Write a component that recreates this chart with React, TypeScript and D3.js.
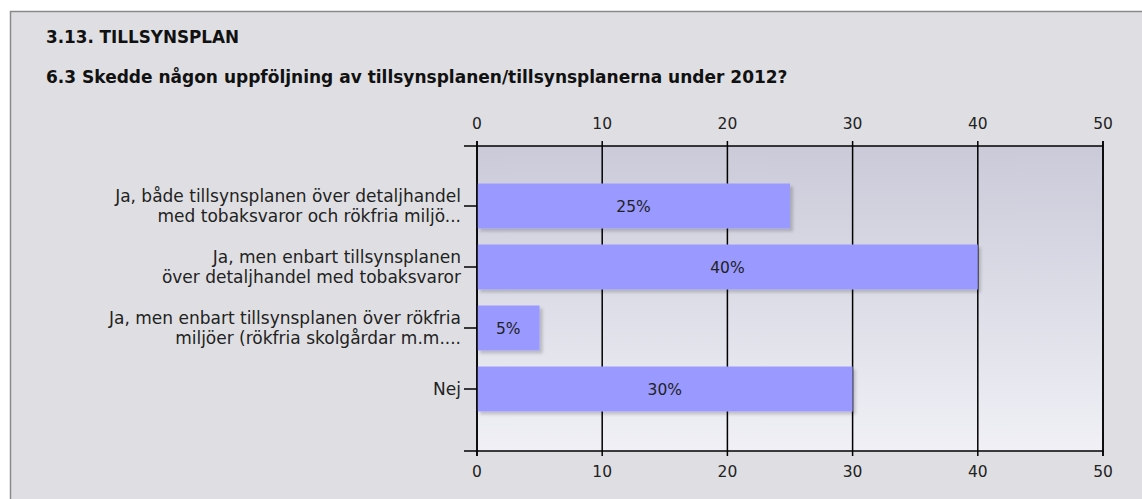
import { useEffect, useRef } from 'react'
import * as d3 from 'd3'

const sectionTitle = '3.13. TILLSYNSPLAN'
const question = '6.3 Skedde någon uppföljning av tillsynsplanen/tillsynsplanerna under 2012?'

const categories = [
  ['Ja, både tillsynsplanen över detaljhandel', 'med tobaksvaror och rökfria miljö...'],
  ['Ja, men enbart tillsynsplanen', 'över detaljhandel med tobaksvaror'],
  ['Ja, men enbart tillsynsplanen över rökfria', 'miljöer (rökfria skolgårdar m.m....'],
  ['Nej'],
]
const values = [25, 40, 5, 30]
const xTicks = [0, 10, 20, 30, 40, 50]

export default function App() {
  const svgRef = useRef<SVGSVGElement | null>(null)

  useEffect(() => {
    if (!svgRef.current) return

    const width = 1142
    const height = 499
    const left = 477
    const right = 1103
    const top = 146
    const bottom = 451
    const font = '"DejaVu Sans", sans-serif'

    const svg = d3.select(svgRef.current)
    svg.selectAll('*').remove()
    svg.attr('width', width).attr('height', height)

    const defs = svg.append('defs')
    const grad = defs
      .append('linearGradient')
      .attr('id', 'plotbg')
      .attr('x1', 0)
      .attr('y1', 0)
      .attr('x2', 0)
      .attr('y2', 1)
    grad.append('stop').attr('offset', '0%').attr('stop-color', '#cacad9')
    grad.append('stop').attr('offset', '100%').attr('stop-color', '#f0f0f6')

    const shadow = defs
      .append('filter')
      .attr('id', 'barshadow')
      .attr('x', '-10%')
      .attr('y', '-20%')
      .attr('width', '130%')
      .attr('height', '150%')
    shadow
      .append('feDropShadow')
      .attr('dx', 3)
      .attr('dy', 3)
      .attr('stdDeviation', 1.5)
      .attr('flood-color', '#000')
      .attr('flood-opacity', 0.18)

    // panel
    svg.append('rect').attr('width', width).attr('height', height).attr('fill', '#fff')
    svg
      .append('rect')
      .attr('x', 10.5)
      .attr('y', 11.5)
      .attr('width', width + 10)
      .attr('height', height + 10)
      .attr('fill', '#dfdfe3')
      .attr('stroke', '#8a8a8a')
      .attr('stroke-width', 1.5)

    svg
      .append('text')
      .attr('x', 46)
      .attr('y', 43)
      .style('font-family', font)
      .style('font-size', '16.8px')
      .style('font-weight', 'bold')
      .attr('fill', '#111')
      .text(sectionTitle)

    svg
      .append('text')
      .attr('x', 46)
      .attr('y', 83)
      .style('font-family', font)
      .style('font-size', '17px')
      .style('font-weight', 'bold')
      .attr('fill', '#111')
      .text(question)

    const x = d3.scaleLinear().domain([0, 50]).range([left, right])
    const y = d3
      .scalePoint<number>()
      .domain(d3.range(categories.length))
      .range([top, bottom])
      .padding(1)
    const barH = 45

    svg
      .append('rect')
      .attr('x', left)
      .attr('y', top)
      .attr('width', right - left)
      .attr('height', bottom - top)
      .attr('fill', 'url(#plotbg)')

    // grid lines + ticks
    svg
      .append('g')
      .selectAll('line')
      .data(xTicks)
      .enter()
      .append('line')
      .attr('x1', (d) => x(d))
      .attr('x2', (d) => x(d))
      .attr('y1', top - 5)
      .attr('y2', bottom + 5)
      .attr('stroke', '#000')
      .attr('stroke-width', 1.5)

    // bars
    svg
      .append('g')
      .selectAll('rect')
      .data(values)
      .enter()
      .append('rect')
      .attr('x', x(0))
      .attr('y', (d, i) => (y(i) as number) - barH / 2 - 1)
      .attr('width', (d) => x(d) - x(0))
      .attr('height', barH)
      .attr('fill', '#9999ff')
      .attr('filter', 'url(#barshadow)')

    svg
      .append('g')
      .selectAll('text')
      .data(values)
      .enter()
      .append('text')
      .attr('x', (d) => (x(0) + x(d)) / 2)
      .attr('y', (d, i) => (y(i) as number) + 5)
      .attr('text-anchor', 'middle')
      .style('font-family', font)
      .style('font-size', '15.5px')
      .attr('fill', '#222')
      .text((d) => `${d}%`)

    // frame lines
    const frame = svg.append('g').attr('stroke', '#000').attr('stroke-width', 1.5)
    frame.append('line').attr('x1', left - 13).attr('x2', right).attr('y1', top).attr('y2', top)
    frame.append('line').attr('x1', left - 13).attr('x2', right).attr('y1', bottom).attr('y2', bottom)
    frame.append('line').attr('x1', left).attr('x2', left).attr('y1', top - 5).attr('y2', bottom + 5)
    frame.append('line').attr('x1', right).attr('x2', right).attr('y1', top - 5).attr('y2', bottom + 5)
    frame
      .selectAll('.ytick')
      .data(values)
      .enter()
      .append('line')
      .attr('x1', left - 13)
      .attr('x2', left)
      .attr('y1', (d, i) => (y(i) as number) - 1)
      .attr('y2', (d, i) => (y(i) as number) - 1)

    // x tick labels top and bottom
    ;[129, 477].forEach((ty) => {
      svg
        .append('g')
        .selectAll('text')
        .data(xTicks)
        .enter()
        .append('text')
        .attr('x', (d) => x(d))
        .attr('y', ty)
        .attr('text-anchor', 'middle')
        .style('font-family', font)
        .style('font-size', '15.5px')
        .attr('fill', '#222')
        .text((d) => d)
    })

    // category labels
    const labels = svg
      .append('g')
      .selectAll('text')
      .data(categories)
      .enter()
      .append('text')
      .attr('text-anchor', 'end')
      .style('font-family', font)
      .style('font-size', '17px')
      .attr('fill', '#222')
    labels
      .selectAll('tspan')
      .data((d, i) => d.map((line, j) => ({ line, j, n: d.length, i })))
      .enter()
      .append('tspan')
      .attr('x', 461)
      .attr('y', (d) => (y(d.i) as number) + 5 + (d.j - (d.n - 1) / 2) * 20)
      .text((d) => d.line)
  }, [])

  return (
    <div style={{ position: 'absolute', left: 0, top: 0 }}>
      <svg ref={svgRef} style={{ display: 'block' }}></svg>
    </div>
  )
}
